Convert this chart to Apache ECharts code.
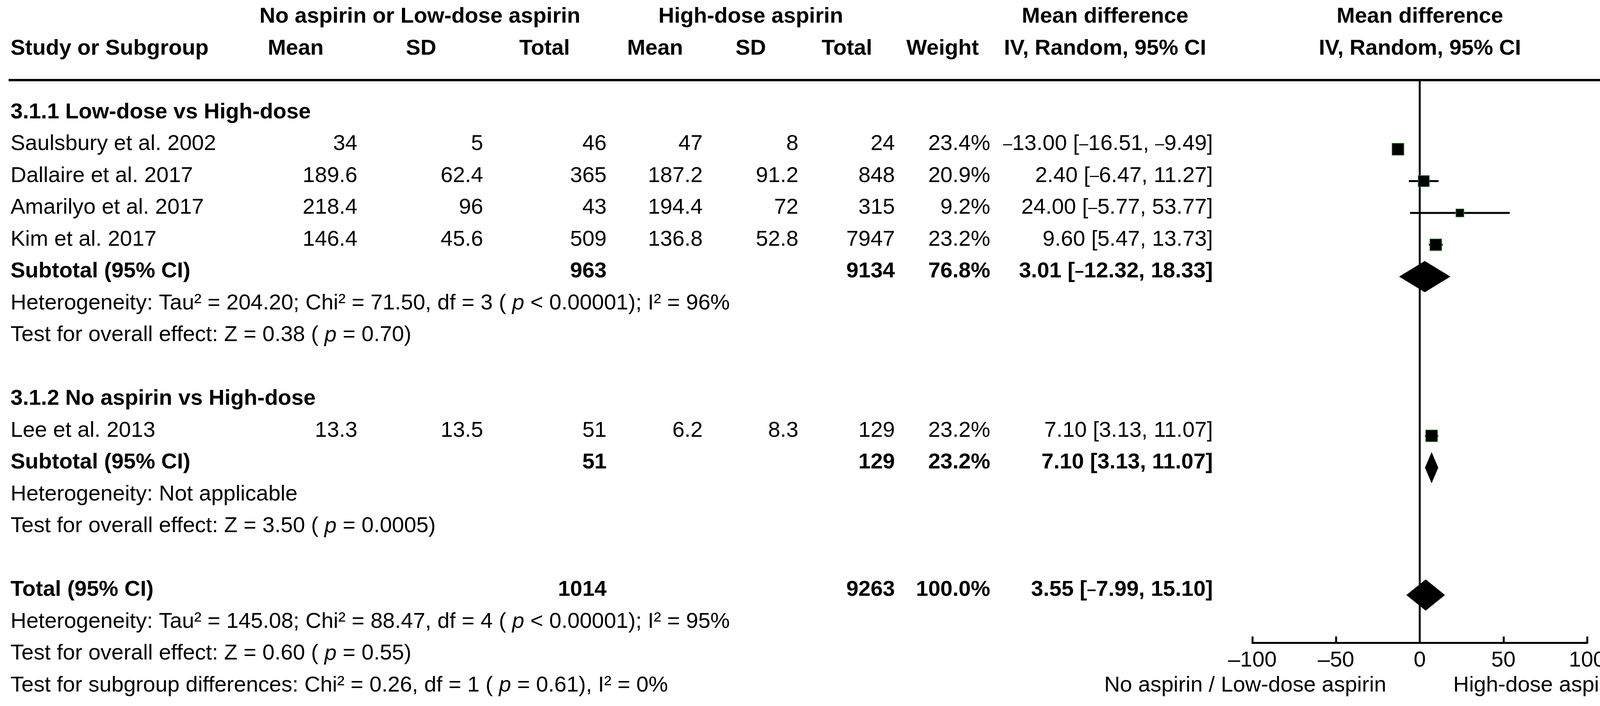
<!DOCTYPE html>
<html>
<head>
<meta charset="utf-8">
<script src="https://cdn.jsdelivr.net/npm/echarts/dist/echarts.min.js"></script>
<style>
html,body{margin:0;padding:0;background:#fff;}
#chart{width:4172px;height:1807px;}
</style>
</head>
<body>
<div id="chart"></div>
<script>
// ---------------- DATA ----------------
const studies   = ['Saulsbury et al. 2002','Dallaire et al. 2017','Amarilyo et al. 2017','Kim et al. 2017','Lee et al. 2013'];
const lowMean   = [34, 189.6, 218.4, 146.4, 13.3];
const lowSD     = [5, 62.4, 96, 45.6, 13.5];
const lowN      = [46, 365, 43, 509, 51];
const highMean  = [47, 187.2, 194.4, 136.8, 6.2];
const highSD    = [8, 91.2, 72, 52.8, 8.3];
const highN     = [24, 848, 315, 7947, 129];
const weights   = [23.4, 20.9, 9.2, 23.2, 23.2];
const md        = [-13.00, 2.40, 24.00, 9.60, 7.10];
const ciLow     = [-16.51, -6.47, -5.77, 5.47, 3.13];
const ciHigh    = [-9.49, 11.27, 53.77, 13.73, 11.07];

const subgroupNames = ['3.1.1 Low-dose vs High-dose','3.1.2 No aspirin vs High-dose'];
const subLowN    = [963, 51];
const subHighN   = [9134, 129];
const subWeight  = [76.8, 23.2];
const subMD      = [3.01, 7.10];
const subLow     = [-12.32, 3.13];
const subHigh    = [18.33, 11.07];
const subHetText = ['Heterogeneity: Tau\u00b2 = 204.20; Chi\u00b2 = 71.50, df = 3 ( {i|p} < 0.00001); I\u00b2 = 96%',
                    'Heterogeneity: Not applicable'];
const subTestText = ['Test for overall effect: Z = 0.38 ( {i|p} = 0.70)',
                     'Test for overall effect: Z = 3.50 ( {i|p} = 0.0005)'];

const totalLowN = 1014, totalHighN = 9263, totalWeight = 100.0;
const totalMD = 3.55, totalLow = -7.99, totalHigh = 15.10;
const totalHetText = 'Heterogeneity: Tau\u00b2 = 145.08; Chi\u00b2 = 88.47, df = 4 ( {i|p} < 0.00001); I\u00b2 = 95%';
const totalTestText = 'Test for overall effect: Z = 0.60 ( {i|p} = 0.55)';
const subgroupDiffText = 'Test for subgroup differences: Chi\u00b2 = 0.26, df = 1 ( {i|p} = 0.61), I\u00b2 = 0%';

const xTicks = [-100, -50, 0, 50, 100];
const favoursLeft = 'No aspirin / Low-dose aspirin';
const favoursRight = 'High-dose aspirin';

// ---------------- LAYOUT ----------------
const FONT = '"Liberation Sans", Arial, Helvetica, sans-serif';
const FS = 56;
const ROW0 = 300.5, PITCH = 81.5;     // pixel centre of row 0 and row pitch
const TOP = 205, BOTTOM = 1645;       // header rule .. axis line
const Y_MIN = (TOP - ROW0) / PITCH, Y_MAX = (BOTTOM - ROW0) / PITCH;
const TEXT_DY = -13;
const W = 4172;
const PLOT_LEFT = 3206, PLOT_RIGHT = 4063;

const col = {
  name: 27, lowMean: 915, lowSD: 1237, lowN: 1553,
  highMean: 1799, highSD: 2044, highN: 2291, weight: 2535, ci: 3105,
  hLowGroup: 1075, hHighGroup: 1922, hMD: 2829, hPlot: 3635,
  hLowMean: 757, hLowSD: 1078, hLowN: 1394, hHighMean: 1677, hHighSD: 1922, hHighN: 2168, hWeight: 2413
};

// row assignment
const studyRow = [1,2,3,4,10];
const groupHeadRow = [0,9];
const subRow = [5,11];
const hetRow = [6,12];
const testRow = [7,13];
const totalRow = 15;

const fmt = (v, b) => (v < 0 ? (b ? '{db|\u2013}' : '{d|\u2013}') : '') + Math.abs(v).toFixed(2);
const ciText = (m, lo, hi, b) => fmt(m, b) + ' [' + fmt(lo, b) + ', ' + fmt(hi, b) + ']';
const pct = v => v.toFixed(1) + '%';

// ---------------- TABLE TEXT ITEMS ----------------
const items = [];
function add(x, r, text, align, bold) { items.push({x, r, text: String(text), align, bold: !!bold}); }

add(col.hLowGroup, -3, 'No aspirin or Low-dose aspirin', 'center', true);
add(col.hHighGroup, -3, 'High-dose aspirin', 'center', true);
add(col.hMD, -3, 'Mean difference', 'center', true);
add(col.hPlot, -3, 'Mean difference', 'center', true);
add(col.name, -2, 'Study or Subgroup', 'left', true);
add(col.hLowMean, -2, 'Mean', 'center', true);
add(col.hLowSD, -2, 'SD', 'center', true);
add(col.hLowN, -2, 'Total', 'center', true);
add(col.hHighMean, -2, 'Mean', 'center', true);
add(col.hHighSD, -2, 'SD', 'center', true);
add(col.hHighN, -2, 'Total', 'center', true);
add(col.hWeight, -2, 'Weight', 'center', true);
add(col.hMD, -2, 'IV, Random, 95% CI', 'center', true);
add(col.hPlot, -2, 'IV, Random, 95% CI', 'center', true);

subgroupNames.forEach((g, gi) => add(col.name, groupHeadRow[gi], g, 'left', true));
studies.forEach((s, i) => {
  const r = studyRow[i];
  add(col.name, r, s, 'left');
  add(col.lowMean, r, lowMean[i], 'right');
  add(col.lowSD, r, lowSD[i], 'right');
  add(col.lowN, r, lowN[i], 'right');
  add(col.highMean, r, highMean[i], 'right');
  add(col.highSD, r, highSD[i], 'right');
  add(col.highN, r, highN[i], 'right');
  add(col.weight, r, pct(weights[i]), 'right');
  add(col.ci, r, ciText(md[i], ciLow[i], ciHigh[i], false), 'right');
});
subgroupNames.forEach((g, gi) => {
  const r = subRow[gi];
  add(col.name, r, 'Subtotal (95% CI)', 'left', true);
  add(col.lowN, r, subLowN[gi], 'right', true);
  add(col.highN, r, subHighN[gi], 'right', true);
  add(col.weight, r, pct(subWeight[gi]), 'right', true);
  add(col.ci, r, ciText(subMD[gi], subLow[gi], subHigh[gi], true), 'right', true);
  add(col.name, hetRow[gi], subHetText[gi], 'left');
  add(col.name, testRow[gi], subTestText[gi], 'left');
});
add(col.name, totalRow, 'Total (95% CI)', 'left', true);
add(col.lowN, totalRow, totalLowN, 'right', true);
add(col.highN, totalRow, totalHighN, 'right', true);
add(col.weight, totalRow, pct(totalWeight), 'right', true);
add(col.ci, totalRow, ciText(totalMD, totalLow, totalHigh, true), 'right', true);
add(col.name, 16, totalHetText, 'left');
add(col.name, 17, totalTestText, 'left');
add(col.name, 18, subgroupDiffText, 'left');

const RICH = {
  i:  {fontStyle: 'italic', fontSize: FS, fontFamily: FONT, fontWeight: 'normal', fill: '#000'},
  d:  {fontSize: 42, fontFamily: FONT, fontWeight: 'normal', fill: '#000', verticalAlign: 'middle'},
  db: {fontSize: 42, fontFamily: FONT, fontWeight: 'bold', fill: '#000', verticalAlign: 'middle'}
};

// ---------------- PLOT DATA ----------------
const ciData = studies.map((s, i) => [ciLow[i], ciHigh[i], studyRow[i]]);
const pointData = studies.map((s, i) => [md[i], studyRow[i], weights[i]]);
const diamondData = subMD.map((m, gi) => [m, subLow[gi], subHigh[gi], subRow[gi]])
  .concat([[totalMD, totalLow, totalHigh, totalRow]]);
const favoursData = [[-20, 18, favoursLeft, 'right'], [20, 18, favoursRight, 'left']];

const chart = echarts.init(document.getElementById('chart'), null, {renderer: 'canvas'});
chart.setOption({
  animation: false,
  backgroundColor: '#fff',
  grid: [
    {left: PLOT_LEFT, width: PLOT_RIGHT - PLOT_LEFT, top: TOP, height: BOTTOM - TOP, containLabel: false},
    {left: 0, width: W, top: TOP, height: BOTTOM - TOP, containLabel: false}
  ],
  xAxis: [
    {
      gridIndex: 0, type: 'value', min: xTicks[0], max: xTicks[xTicks.length - 1], interval: 50,
      position: 'bottom',
      axisLine: {show: true, onZero: false, lineStyle: {color: '#000', width: 5}},
      axisTick: {show: true, inside: true, length: 16, lineStyle: {color: '#000', width: 5}},
      axisLabel: {color: '#000', fontSize: FS, fontFamily: FONT, margin: 18,
        formatter: v => (v < 0 ? '\u2013' + Math.abs(v) : String(v))},
      splitLine: {show: false}
    },
    {gridIndex: 1, type: 'value', min: 0, max: W, show: false}
  ],
  yAxis: [
    {gridIndex: 0, type: 'value', min: Y_MIN, max: Y_MAX, inverse: true, show: false},
    {gridIndex: 1, type: 'value', min: Y_MIN, max: Y_MAX, inverse: true, show: false}
  ],
  graphic: [
    {type: 'rect', shape: {x: 22, y: TOP - 3, width: 4126, height: 6}, style: {fill: '#000'}, silent: true}
  ],
  series: [
    {
      type: 'custom', xAxisIndex: 1, yAxisIndex: 1, silent: true, clip: false,
      data: items.map(t => [t.x, t.r]),
      renderItem: (params, api) => {
        const t = items[params.dataIndex];
        const p = api.coord([api.value(0), api.value(1)]);
        return {
          type: 'text', x: p[0], y: p[1] + TEXT_DY,
          style: {
            text: t.text, fill: '#000', fontSize: FS, fontFamily: FONT,
            fontWeight: t.bold ? 'bold' : 'normal',
            align: t.align, textAlign: t.align, verticalAlign: 'middle', textVerticalAlign: 'middle',
            rich: RICH
          }
        };
      }
    },
    {
      type: 'custom', xAxisIndex: 0, yAxisIndex: 0, silent: true,
      data: ciData,
      renderItem: (params, api) => {
        const a = api.coord([api.value(0), api.value(2)]);
        const b = api.coord([api.value(1), api.value(2)]);
        return {type: 'line', shape: {x1: a[0], y1: a[1], x2: b[0], y2: b[1]},
          style: {stroke: '#000', lineWidth: 5}};
      }
    },
    {
      type: 'scatter', xAxisIndex: 0, yAxisIndex: 0, silent: true,
      symbol: 'rect',
      symbolSize: v => 14 + 0.7 * v[2],
      itemStyle: {color: '#000', borderColor: '#2f8a2f', borderWidth: 1.5, opacity: 1},
      data: pointData,
      z: 5
    },
    {
      type: 'custom', xAxisIndex: 0, yAxisIndex: 0, silent: true,
      data: diamondData,
      renderItem: (params, api) => {
        const m = api.coord([api.value(0), api.value(3)]);
        const lo = api.coord([api.value(1), api.value(3)]);
        const hi = api.coord([api.value(2), api.value(3)]);
        const h = 40;
        return {type: 'polygon', shape: {points: [[lo[0], m[1]], [m[0], m[1] - h], [hi[0], m[1]], [m[0], m[1] + h]]},
          style: {fill: '#000'}};
      },
      markLine: {
        silent: true, symbol: 'none', label: {show: false},
        lineStyle: {color: '#000', width: 5, type: 'solid'},
        data: [{xAxis: 0}]
      },
      z: 4
    },
    {
      type: 'custom', xAxisIndex: 0, yAxisIndex: 0, silent: true, clip: false,
      data: favoursData.map(f => [f[0], f[1]]),
      renderItem: (params, api) => {
        const f = favoursData[params.dataIndex];
        const p = api.coord([api.value(0), api.value(1)]);
        return {type: 'text', x: p[0], y: p[1] + TEXT_DY,
          style: {text: f[2], fill: '#000', fontSize: FS, fontFamily: FONT,
            align: f[3], textAlign: f[3], verticalAlign: 'middle', textVerticalAlign: 'middle'}};
      }
    }
  ]
});
</script>
</body>
</html>
